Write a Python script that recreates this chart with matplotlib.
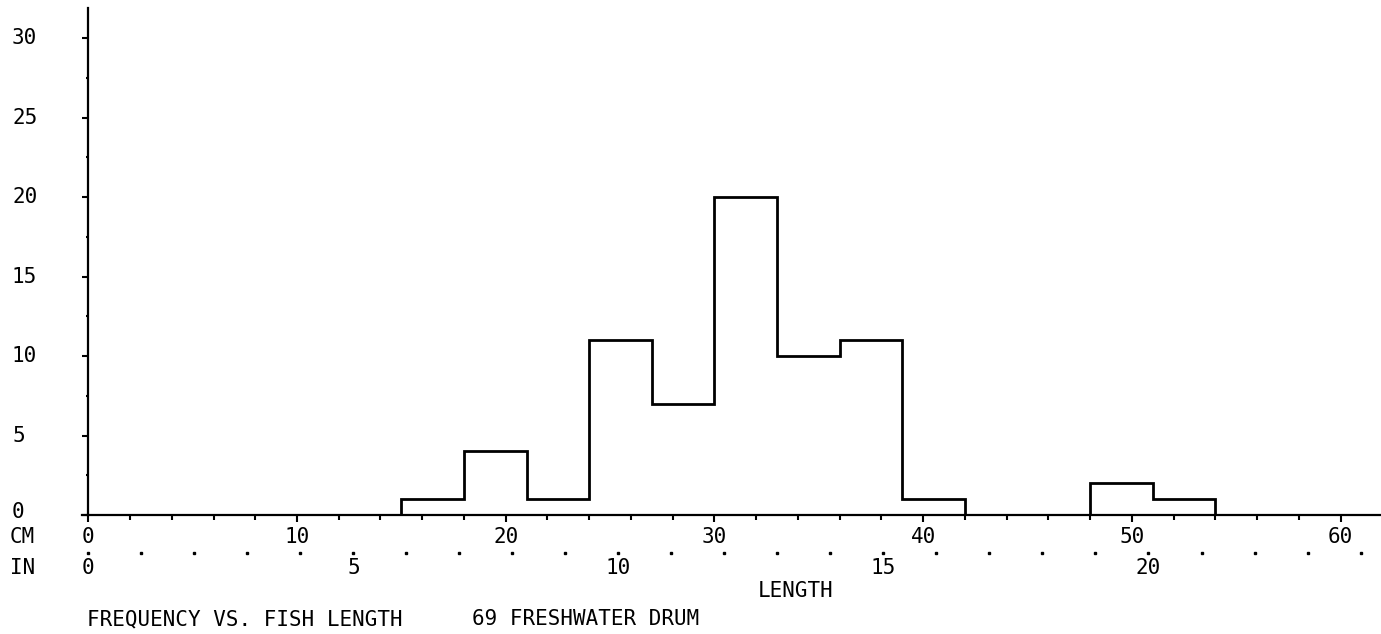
import matplotlib
matplotlib.use("Agg")
import matplotlib.pyplot as plt
from matplotlib import transforms

# histogram data: 3 cm bins
bin_edges = [15, 18, 21, 24, 27, 30, 33, 36, 39, 42, 45, 48, 51, 54]
counts = [1, 4, 1, 11, 7, 20, 10, 11, 1, 0, 0, 2, 1]

y_ticks = [0, 5, 10, 15, 20, 25, 30]
cm_labels = [0, 10, 20, 30, 40, 50, 60]
in_labels = [0, 5, 10, 15, 20]

W, H = 1381, 634
FS = 15
fig = plt.figure(figsize=(W / 100, H / 100), dpi=100)
plt.rcParams['font.family'] = ['DejaVu Sans Mono']

# axes placed in pixel terms
x0, x1 = 88.3, 1381
y0, y1 = 515, 8
ax = fig.add_axes([x0 / W, 1 - y0 / H, (x1 - x0) / W, (y0 - y1) / H])
px_per_cm = 20.87
px_per_unit = 15.89
ax.set_xlim(0, (x1 - x0) / px_per_cm)
ax.set_ylim(0, (y0 - y1) / px_per_unit)

ax.stairs(counts, bin_edges, baseline=0, color='black', linewidth=2.0)

for s in ['top', 'right']:
    ax.spines[s].set_visible(False)
ax.spines['left'].set_linewidth(1.6)
ax.spines['bottom'].set_linewidth(1.6)

# y ticks
ax.set_yticks(y_ticks)
ax.set_yticks([v + 2.5 for v in y_ticks[:-1]], minor=True)
ax.set_yticklabels([])
ax.tick_params(axis='y', which='major', direction='out', length=4.5, width=1.5)
ax.tick_params(axis='y', which='minor', direction='out', length=1.5, width=1.5)

# x ticks (cm)
ax.set_xticks(cm_labels)
ax.set_xticks(list(range(0, 62, 2)), minor=True)
ax.set_xticklabels([])
ax.tick_params(axis='x', which='major', direction='out', length=5, width=1.5)
ax.tick_params(axis='x', which='minor', direction='out', length=3.5, width=1.5)

# stub of x axis left of origin
ax.plot([-6 / px_per_cm, 0], [0, 0], color='black', lw=1.6, clip_on=False)

tr = transforms.blended_transform_factory(ax.transData, fig.transFigure)
try_ = transforms.blended_transform_factory(fig.transFigure, ax.transData)


def fy(py):
    return 1 - py / H


for v in y_ticks:
    yy = v + (3 / px_per_unit if v == 0 else 0)
    ax.text(12 / W, yy, str(v), transform=try_, ha='left', va='center', fontsize=FS)

for v in cm_labels:
    ax.text(v, fy(537), str(v), transform=tr, ha='center', va='center', fontsize=FS)

inch_pos = [i * 2.54 for i in range(0, 25)]
ax.plot(inch_pos, [fy(553)] * len(inch_pos), 's', ms=1.8, color='black',
        transform=tr, clip_on=False)
for v in in_labels:
    ax.text(v * 2.54, fy(568), str(v), transform=tr, ha='center', va='center', fontsize=FS)

fig.text(10 / W, fy(537), 'CM', ha='left', va='center', fontsize=FS)
fig.text(10 / W, fy(568), 'IN', ha='left', va='center', fontsize=FS)
fig.text(796 / W, fy(591), 'LENGTH', ha='center', va='center', fontsize=FS)
fig.text(87 / W, fy(619), 'FREQUENCY VS. FISH LENGTH', ha='left', va='center', fontsize=FS)
fig.text(472 / W, fy(619), '69 FRESHWATER DRUM', ha='left', va='center', fontsize=FS)

fig.savefig('out.png', dpi=100)
